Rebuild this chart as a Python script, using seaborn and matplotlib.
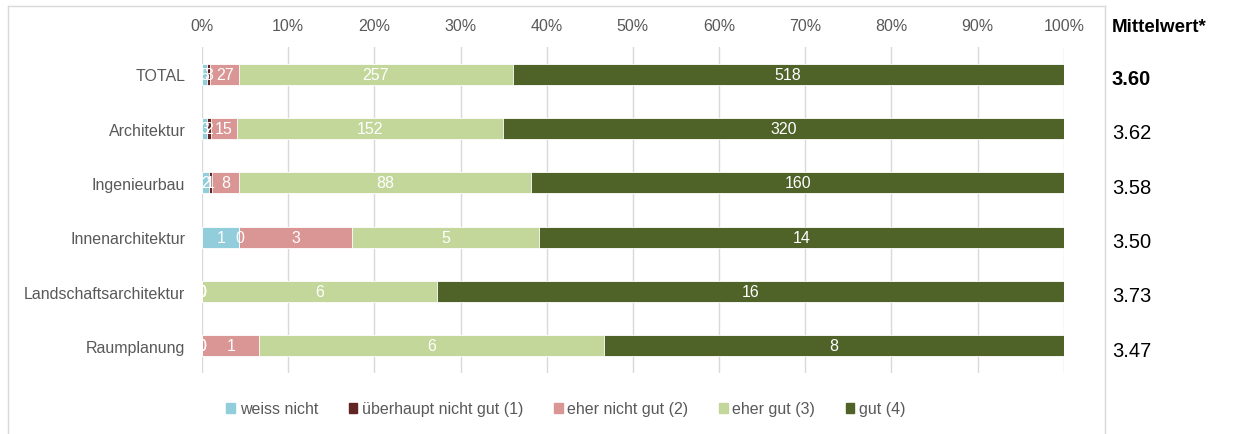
import matplotlib
matplotlib.use('Agg')
import matplotlib.pyplot as plt
import matplotlib.patches as mpatches
from matplotlib.lines import Line2D
import seaborn as sns
import pandas as pd
import numpy as np

# Daten
kategorien = ['TOTAL', 'Architektur', 'Ingenieurbau', 'Innenarchitektur',
              'Landschaftsarchitektur', 'Raumplanung']
antworten = ['weiss nicht', 'überhaupt nicht gut (1)', 'eher nicht gut (2)',
             'eher gut (3)', 'gut (4)']
weiss_nicht = [5, 3, 2, 1, 0, 0]
ueberhaupt_nicht_gut = [3, 2, 1, 0, 0, 0]
eher_nicht_gut = [27, 15, 8, 3, 0, 1]
eher_gut = [257, 152, 88, 5, 6, 6]
gut = [518, 320, 160, 14, 16, 8]
mittelwert = ['3.60', '3.62', '3.58', '3.50', '3.73', '3.47']
farben = ['#92CDDC', '#632523', '#DA9694', '#C4D79B', '#4F6228']

plt.rcParams['font.family'] = ['Liberation Sans', 'DejaVu Sans']

counts = np.array([weiss_nicht, ueberhaupt_nicht_gut, eher_nicht_gut, eher_gut, gut], dtype=float)
anteile = counts / counts.sum(axis=0) * 100
kum = np.cumsum(anteile, axis=0)

fig = plt.figure(figsize=(12.33, 4.35), dpi=100)
ax = fig.add_axes([0.1638, 0.1402, 0.699, 0.7494])

# gestapelt: von hinten nach vorne die kumulierten Summen zeichnen
for i in range(len(antworten) - 1, -1, -1):
    df = pd.DataFrame({'kategorie': kategorien, 'wert': kum[i]})
    sns.barplot(data=df, x='wert', y='kategorie', color=farben[i], orient='h',
                saturation=1, width=0.39, edgecolor='white', linewidth=0.6,
                ax=ax, zorder=3)

# Beschriftungen in den Segmenten
for i in range(len(antworten)):
    for j in range(len(kategorien)):
        mitte = kum[i, j] - anteile[i, j] / 2
        ax.text(mitte, j, f'{int(counts[i, j])}', ha='center', va='center',
                color='white', fontsize=11.5, zorder=5)

ax.set_xlim(0, 100)
ax.set_ylim(5.5, -0.5)
ax.set_xticks(np.arange(0, 101, 10))
ax.set_xticklabels([f'{t}%' for t in range(0, 101, 10)])
ax.xaxis.tick_top()
ax.tick_params(axis='x', length=0, pad=10, labelsize=11.5, labelcolor='#595959')
ax.tick_params(axis='y', length=0, pad=12, labelsize=11.5, labelcolor='#595959')
ax.set_xlabel('')
ax.set_ylabel('')
ax.grid(axis='x', color='#D9D9D9', linewidth=1, zorder=0)
ax.set_axisbelow(True)
for s in ax.spines.values():
    s.set_visible(False)

# Mittelwert-Spalte
fig.text(1112 / 1233, 1 - 28 / 435, 'Mittelwert*', fontsize=13.5, fontweight='bold',
         ha='left', va='center')
for j, m in enumerate(mittelwert):
    y_disp = ax.transData.transform((0, j))[1]
    y_fig = fig.transFigure.inverted().transform((0, y_disp))[1]
    fig.text(1112 / 1233, y_fig - 0.01, m, fontsize=14.5, ha='left', va='center',
             fontweight='bold' if j == 0 else 'normal')

# Rahmen des Diagramms
rahmen = '#D9D9D9'
fig.add_artist(Line2D([8 / 1233, 8 / 1233], [0, 1 - 7 / 435], color=rahmen, lw=1))
fig.add_artist(Line2D([8 / 1233, 1105 / 1233], [1 - 7 / 435, 1 - 7 / 435], color=rahmen, lw=1))
fig.add_artist(Line2D([1105 / 1233, 1105 / 1233], [0, 1 - 7 / 435], color=rahmen, lw=1))

# Legende
handles = [mpatches.Patch(color=c, label=a) for c, a in zip(farben, antworten)]
fig.legend(handles=handles, loc='center', bbox_to_anchor=(566 / 1233, 1 - 410 / 435),
           ncol=5, frameon=False, fontsize=11.5, handlelength=0.55, handleheight=0.55,
           handletextpad=0.3, columnspacing=1.9, labelcolor='#595959')

fig.savefig('out.png', dpi=100)
